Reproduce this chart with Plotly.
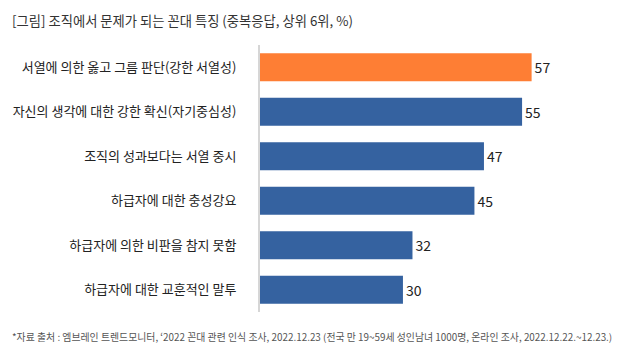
import plotly.graph_objects as go

categories = [
    "서열에 의한 옳고 그름 판단(강한 서열성)",
    "자신의 생각에 대한 강한 확신(자기중심성)",
    "조직의 성과보다는 서열 중시",
    "하급자에 대한 충성강요",
    "하급자에 의한 비판을 참지 못함",
    "하급자에 대한 교훈적인 말투",
]
values = [57, 55, 47, 45, 32, 30]
colors = ["#FE7E34", "#3562A0", "#3562A0", "#3562A0", "#3562A0", "#3562A0"]

title_text = "[그림] 조직에서 문제가 되는 꼰대 특징 (중복응답, 상위 6위, %)"
source_text = ("*자료 출처 : 엠브레인 트렌드모니터, ‘2022 꼰대 관련 인식 조사, 2022.12.23 "
               "(전국 만 19~59세 성인남녀 1000명, 온라인 조사, 2022.12.22.~12.23.)")

font_family = "Noto Sans CJK KR, Noto Sans, sans-serif"

L, R, T, B = 260, 10, 45, 49
FW, FH = 625, 361

fig = go.Figure(go.Bar(
    x=values,
    y=categories,
    orientation="h",
    marker=dict(color=colors, line=dict(width=0)),
    text=[str(v) for v in values],
    textposition="outside",
    textfont=dict(size=14, color="#222222", family=font_family),
    cliponaxis=False,
    hoverinfo="skip",
))

W = FW - L - R
H = FH - T - B

fig.update_layout(
    width=FW, height=FH,
    margin=dict(l=L, r=R, t=T, b=B, autoexpand=False),
    paper_bgcolor="white", plot_bgcolor="white",
    bargap=0.37,
    showlegend=False,
    font=dict(family=font_family, color="#222222"),
    xaxis=dict(range=[0, 74.5], visible=False, fixedrange=True, automargin=False),
    yaxis=dict(
        autorange="reversed", automargin=False, fixedrange=True,
        showline=True, linecolor="#D6D6D6", linewidth=2,
        showgrid=False, zeroline=False,
        ticks="outside", ticklen=19, tickcolor="rgba(0,0,0,0)",
        tickfont=dict(size=13, color="#222222", family=font_family),
    ),
    annotations=[
        dict(text=title_text, xref="paper", yref="paper",
             x=(10 - L) / W, y=(FH - 20 - B) / H,
             xanchor="left", yanchor="middle", showarrow=False,
             font=dict(size=13.3, color="#333333", family=font_family)),
        dict(text=source_text, xref="paper", yref="paper",
             x=(10 - L) / W, y=(FH - 337 - B) / H,
             xanchor="left", yanchor="middle", showarrow=False,
             font=dict(size=9.9, color="#555555", family=font_family)),
    ],
)

fig.write_html("out.html", config={"displayModeBar": False},
               post_script="document.body.style.margin='0';")
